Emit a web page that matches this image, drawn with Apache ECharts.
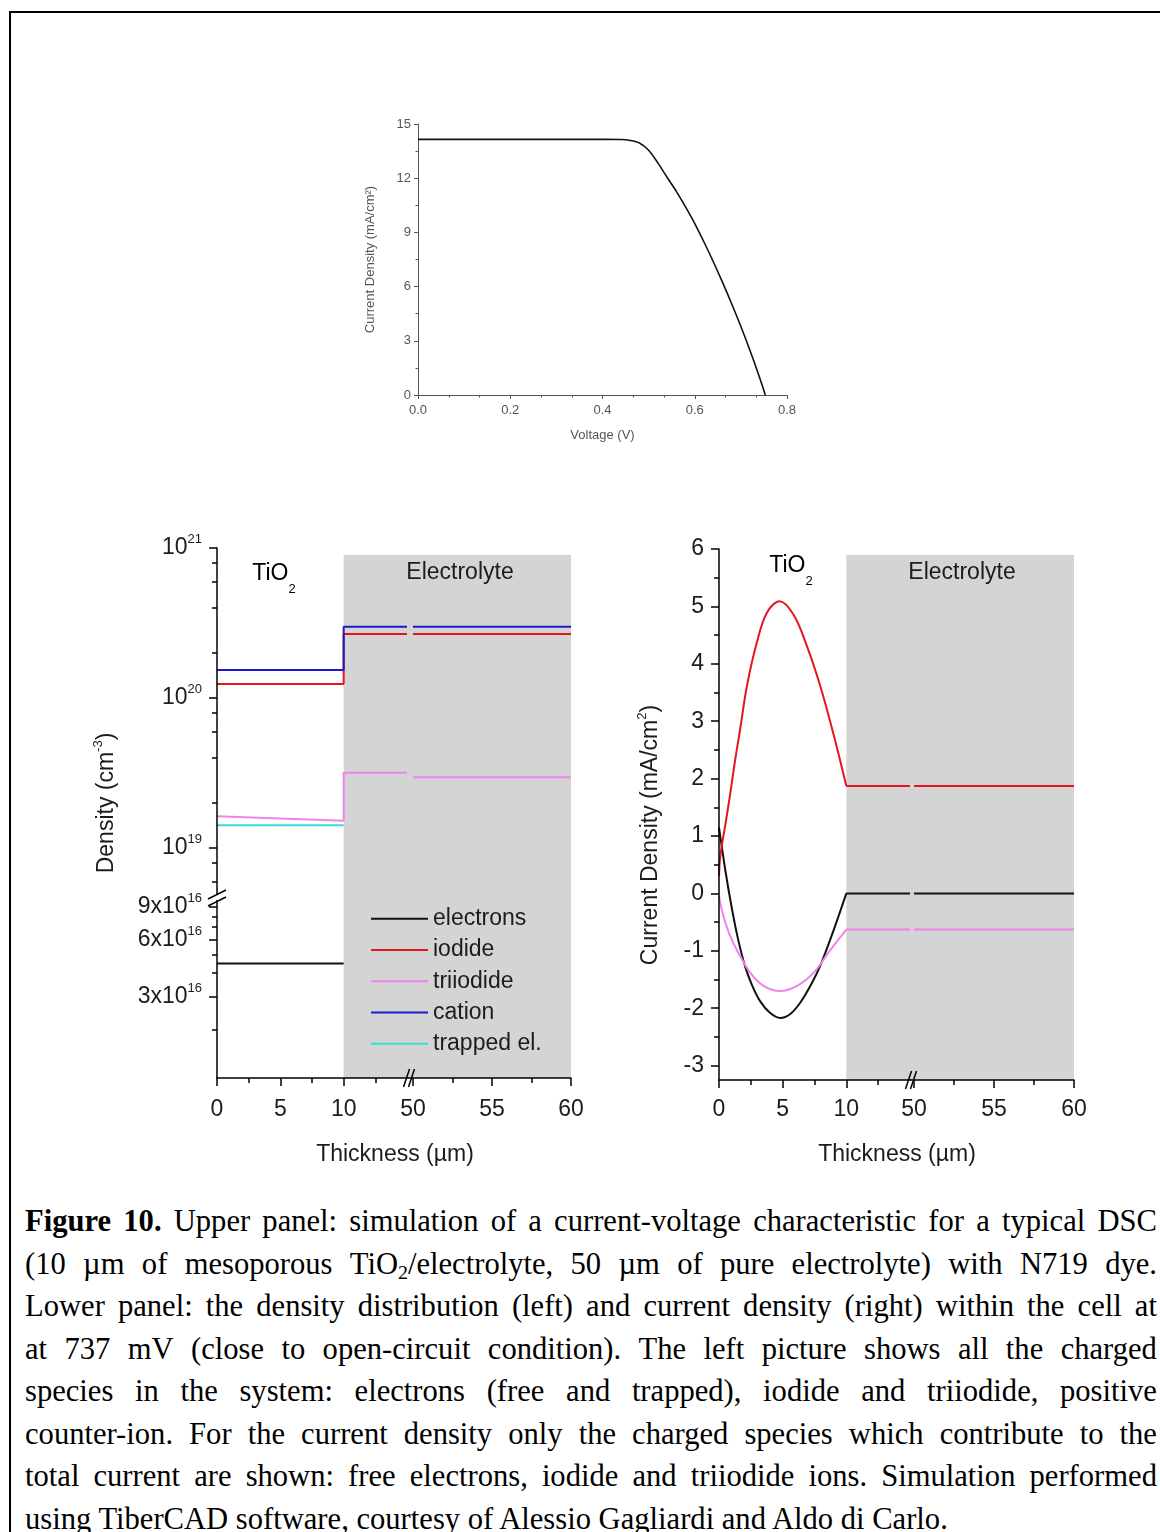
<!DOCTYPE html>
<html>
<head>
<meta charset="utf-8">
<title>Figure 10</title>
<script src="https://cdn.jsdelivr.net/npm/echarts@6.0.0/dist/echarts.min.js"></script>
<style>
  html, body { margin:0; padding:0; background:#fff; overflow:hidden; width:1160px; height:1532px; }
  #frame { position:absolute; left:9px; top:11px; width:1300px; height:1700px; border-left:2px solid #000; border-top:2px solid #000; box-sizing:border-box; }
  #chart { position:absolute; left:0; top:0; width:1160px; height:1180px; }
  #caption { position:absolute; left:25px; top:1200px; width:1132px; font-family:"Liberation Serif","Times New Roman",serif; font-size:30.6px; line-height:42.5px; color:#000; }
  .ln { display:flex; justify-content:space-between; white-space:nowrap; height:42.5px; }
  .last { white-space:nowrap; height:42.5px; }
  sub { font-size:0.65em; line-height:0; vertical-align:-0.25em; }
</style>
</head>
<body>
<div id="frame"></div>
<div id="chart"></div>
<div id="caption"></div>
<script>
// ================= DATA =================
// Upper panel: simulated J-V characteristic
const voltage = [0, 0.1, 0.2, 0.3, 0.4, 0.44, 0.46, 0.48, 0.50, 0.52, 0.54, 0.56, 0.58, 0.60, 0.62, 0.64, 0.66, 0.68, 0.70, 0.72, 0.74, 0.753];
const currentJV = [14.15, 14.15, 14.15, 14.15, 14.15, 14.14, 14.09, 13.95, 13.55, 12.85, 12.05, 11.27, 10.41, 9.49, 8.47, 7.39, 6.25, 5.05, 3.79, 2.45, 1.01, 0];

// Lower-left panel: densities (cm^-3)
const xStepNear = [0, 10, 10, 15];      // TiO2 region, jump at interface, first electrolyte µm
const xFar = [50, 60];                   // far electrolyte after axis break
const xTiO2 = [0, 10];
const cationNear = [1.54e20, 1.54e20, 2.99e20, 2.99e20];
const cationFar = [2.99e20, 2.99e20];
const iodideNear = [1.24e20, 1.24e20, 2.67e20, 2.67e20];
const iodideFar = [2.67e20, 2.67e20];
const triiodideNear = [1.63e19, 1.52e19, 3.18e19, 3.18e19];
const triiodideFar = [2.96e19, 2.96e19];
const trappedEl = [1.42e19, 1.42e19];
const electronsDens = [4.5e16, 4.5e16];
const densUpperLabels = [19, 20, 21];            // exponents
const densLowerLabels = [3e16, 6e16, 9e16];
const densLowerMinor = [2e16, 4e16, 5e16, 7e16, 8e16];

// Lower-right panel: current densities (mA/cm^2)
const xIodideCur = [0, 0.1, 0.5, 0.87, 1.25, 1.66, 2.19, 2.97, 3.76, 4.76, 5.87, 6.92, 7.97, 9.02, 10];
const iodideCur = [0.3, 0.65, 1.2, 1.72, 2.3, 2.86, 3.61, 4.37, 4.89, 5.09, 4.85, 4.3, 3.6, 2.75, 1.87];
const xElecCur = [0, 0.5, 1.0, 1.5, 2.05, 2.6, 3.24, 4.0, 4.81, 5.6, 6.39, 7.2, 7.97, 9.02, 10];
const elecCur = [1.15, 0.4, -0.25, -0.8, -1.27, -1.6, -1.88, -2.08, -2.17, -2.1, -1.9, -1.6, -1.25, -0.63, 0];
const xTriCur = [0, 0.34, 0.8, 1.39, 2.45, 3.5, 4.81, 6.13, 7.44, 8.76, 10];
const triCur = [-0.05, -0.39, -0.7, -0.98, -1.38, -1.61, -1.70, -1.61, -1.38, -0.98, -0.63];
const xFlatNear = [10, 15];
const iodideCurFlat = [1.87, 1.87];
const elecCurFlat = [0, 0];
const triCurFlat = [-0.63, -0.63];
const curLabels = [-3, -2, -1, 0, 1, 2, 3, 4, 5, 6];

const thicknessNearLabels = [0, 5, 10];
const thicknessFarLabels = [50, 55, 60];

// ================= STYLE =================
const FONT = '"Liberation Sans", Arial, sans-serif';
const TXT = '#1c1c1c';
const GRAY = '#d4d4d4';
const C_BLACK = '#111111', C_RED = '#e3161f', C_MAG = '#ec84ec', C_BLUE = '#1a1ac8', C_CYAN = '#35dcdc';
const lg = Math.log10;
const zip = (xs, ys) => xs.map((x, i) => [x, ys[i]]);

const DENS_UP_MIN = 18.667, DENS_UP_MAX = 21;
const DENS_LO_MIN = lg(1.11e16), DENS_LO_MAX = 17;
const CUR_MIN = -3.25, CUR_MAX = 6;
const FAR_MIN_D = 49.62, FAR_MIN_C = 49.75;
const SHADE_TOP_D = lg(8.97e20), SHADE_TOP_C = 5.895;

const rich = {
  n: { fontSize: 23, fontFamily: FONT, color: TXT, lineHeight: 30, verticalAlign: 'middle' },
  s: { fontSize: 13, fontFamily: FONT, color: TXT, verticalAlign: 'top' }
};

function bottomMajor(gi, min, max, vals, margin) {
  return { gridIndex: gi, type: 'value', min, max, position: 'bottom', z: 4,
    axisLine: { onZero: false, lineStyle: { color: '#000', width: 1.5 } },
    axisTick: { customValues: vals, length: 8, lineStyle: { color: '#000', width: 1.5 } },
    axisLabel: { customValues: vals, fontSize: 23, fontFamily: FONT, color: TXT, margin },
    splitLine: { show: false } };
}
function bottomMinor(gi, min, max, vals) {
  return { gridIndex: gi, type: 'value', min, max, position: 'bottom', z: 4,
    axisLine: { show: false, onZero: false },
    axisTick: { customValues: vals, length: 5, lineStyle: { color: '#000', width: 1.5 } },
    axisLabel: { show: false }, splitLine: { show: false } };
}
function leftMajor(gi, min, max, vals, fmt) {
  return { gridIndex: gi, type: 'value', min, max, position: 'left', z: 4,
    axisLine: { onZero: false, lineStyle: { color: '#000', width: 1.5 } },
    axisTick: { customValues: vals, length: 8, lineStyle: { color: '#000', width: 1.5 } },
    axisLabel: { customValues: vals, formatter: fmt, rich, margin: 15 },
    splitLine: { show: false } };
}
function leftMinor(gi, min, max, vals) {
  return { gridIndex: gi, type: 'value', min, max, position: 'left', z: 4,
    axisLine: { show: false, onZero: false },
    axisTick: { customValues: vals, length: 5, lineStyle: { color: '#000', width: 1.5 } },
    axisLabel: { show: false }, splitLine: { show: false } };
}
function hiddenAxis(gi, min, max) {
  return { gridIndex: gi, type: 'value', min, max, show: false, splitLine: { show: false } };
}
function shade(xi, yi, x0, x1, y0, y1) {
  return { type: 'line', xAxisIndex: xi, yAxisIndex: yi, data: [[x0, y0]], symbol: 'none', silent: true,
    lineStyle: { opacity: 0 }, z: 1,
    markArea: { silent: true, itemStyle: { color: GRAY, opacity: 1 }, data: [[{ xAxis: x0, yAxis: y0 }, { xAxis: x1, yAxis: y1 }]] } };
}
function dens(name, xi, yi, xs, vals, color) {
  return { name, type: 'line', xAxisIndex: xi, yAxisIndex: yi, data: zip(xs, vals.map(lg)), symbol: 'none',
    lineStyle: { color, width: 2 }, itemStyle: { color }, z: 3 };
}
function cur(name, xi, yi, xs, ys, color, smooth) {
  return { name, type: 'line', xAxisIndex: xi, yAxisIndex: yi, data: zip(xs, ys), symbol: 'none',
    smooth: smooth ? 0.35 : false, lineStyle: { color, width: 2 }, itemStyle: { color }, z: 3 };
}

// minor ticks for upper density segment (2,4,6,8 x 10^n)
const densUpperMinor = [];
[18, 19, 20].forEach(n => [2, 4, 6, 8].forEach(k => { const v = n + lg(k); if (v > DENS_UP_MIN && v < DENS_UP_MAX) densUpperMinor.push(v); }));
const curMinor = curLabels.slice(0, -1).map(v => v + 0.5);

const option = {
  animation: false,
  backgroundColor: 'transparent',
  grid: [
    { left: 418, top: 124, width: 369, height: 271 },       // 0 J-V
    { left: 217, top: 548, width: 190, height: 350 },       // 1 density upper near
    { left: 407, top: 548, width: 164, height: 350 },       // 2 density upper far
    { left: 217, top: 898, width: 190, height: 180 },       // 3 density lower near
    { left: 407, top: 898, width: 164, height: 180 },       // 4 density lower far
    { left: 719, top: 549, width: 191, height: 531 },       // 5 current near
    { left: 910, top: 549, width: 164, height: 531 }        // 6 current far
  ],
  xAxis: [
    { gridIndex: 0, type: 'value', min: 0, max: 0.8, interval: 0.2,
      axisLine: { onZero: false, lineStyle: { color: '#555', width: 1 } },
      axisTick: { length: 4, lineStyle: { color: '#555' } },
      minorTick: { show: true, splitNumber: 3, length: 2.5, lineStyle: { color: '#555' } },
      axisLabel: { fontSize: 13, fontFamily: FONT, color: '#555', margin: 9, formatter: v => v.toFixed(1) },
      splitLine: { show: false }, minorSplitLine: { show: false },
      name: 'Voltage (V)', nameLocation: 'middle', nameGap: 34,
      nameTextStyle: { fontSize: 13, fontFamily: FONT, color: '#555' } },
    hiddenAxis(1, 0, 15),                                   // 1
    hiddenAxis(2, FAR_MIN_D, 60),                           // 2
    bottomMajor(3, 0, 15, thicknessNearLabels, 20),         // 3
    bottomMinor(3, 0, 15, [2.5, 7.5, 12.5]),                // 4
    bottomMajor(4, FAR_MIN_D, 60, thicknessFarLabels, 20),  // 5
    bottomMinor(4, FAR_MIN_D, 60, [52.5, 57.5]),            // 6
    bottomMajor(5, 0, 15, thicknessNearLabels, 18),         // 7
    bottomMinor(5, 0, 15, [2.5, 7.5, 12.5]),                // 8
    bottomMajor(6, FAR_MIN_C, 60, thicknessFarLabels, 18),  // 9
    bottomMinor(6, FAR_MIN_C, 60, [52.5, 57.5])             // 10
  ],
  yAxis: [
    { gridIndex: 0, type: 'value', min: 0, max: 15, interval: 3,
      axisLine: { onZero: false, lineStyle: { color: '#555', width: 1 } },
      axisTick: { length: 4, lineStyle: { color: '#555' } },
      minorTick: { show: true, splitNumber: 2, length: 2.5, lineStyle: { color: '#555' } },
      axisLabel: { fontSize: 13, fontFamily: FONT, color: '#555', margin: 7 },
      splitLine: { show: false }, minorSplitLine: { show: false },
      name: 'Current Density (mA/cm²)', nameLocation: 'middle', nameGap: 41, nameRotate: 90,
      nameTextStyle: { fontSize: 13, fontFamily: FONT, color: '#555' } },
    leftMajor(1, DENS_UP_MIN, DENS_UP_MAX, densUpperLabels, v => '{n|10}{s|' + Math.round(v) + '}'),   // 1
    leftMinor(1, DENS_UP_MIN, DENS_UP_MAX, densUpperMinor),                                           // 2
    hiddenAxis(2, DENS_UP_MIN, DENS_UP_MAX),                                                          // 3
    leftMajor(3, DENS_LO_MIN, DENS_LO_MAX, densLowerLabels.map(lg),
      v => '{n|' + Math.round(Math.pow(10, v - 16)) + 'x10}{s|16}'),                                  // 4
    leftMinor(3, DENS_LO_MIN, DENS_LO_MAX, densLowerMinor.map(lg)),                                   // 5
    hiddenAxis(4, DENS_LO_MIN, DENS_LO_MAX),                                                          // 6
    leftMajor(5, CUR_MIN, CUR_MAX, curLabels, v => '{n|' + Math.round(v) + '}'),                      // 7
    leftMinor(5, CUR_MIN, CUR_MAX, curMinor),                                                         // 8
    hiddenAxis(6, CUR_MIN, CUR_MAX)                                                                   // 9
  ],
  legend: {
    data: ['electrons', 'iodide', 'triiodide', 'cation', 'trapped el.'],
    orient: 'vertical', left: 371, top: 903, padding: 0, icon: 'rect', itemWidth: 57, itemHeight: 2, itemGap: 0,
    selectedMode: false,
    textStyle: { fontSize: 23, fontFamily: FONT, color: TXT, lineHeight: 31.3 }
  },
  series: [
    { name: 'J-V', type: 'line', xAxisIndex: 0, yAxisIndex: 0, data: zip(voltage, currentJV), symbol: 'none',
      smooth: 0.3, lineStyle: { color: '#111', width: 1.6 }, z: 3 },
    // electrolyte shading
    shade(1, 1, 10, 15, DENS_UP_MIN, SHADE_TOP_D),
    shade(2, 3, FAR_MIN_D, 60, DENS_UP_MIN, SHADE_TOP_D),
    shade(3, 4, 10, 15, DENS_LO_MIN, DENS_LO_MAX),
    shade(5, 6, FAR_MIN_D, 60, DENS_LO_MIN, DENS_LO_MAX),
    shade(7, 7, 10, 15, CUR_MIN, SHADE_TOP_C),
    shade(9, 9, FAR_MIN_C, 60, CUR_MIN, SHADE_TOP_C),
    // densities
    dens('electrons', 3, 4, xTiO2, electronsDens, C_BLACK),
    dens('trapped el.', 1, 1, xTiO2, trappedEl, C_CYAN),
    dens('triiodide', 1, 1, xStepNear, triiodideNear, C_MAG),
    dens('triiodide', 2, 3, xFar, triiodideFar, C_MAG),
    dens('iodide', 1, 1, xStepNear, iodideNear, C_RED),
    dens('iodide', 2, 3, xFar, iodideFar, C_RED),
    dens('cation', 1, 1, xStepNear, cationNear, C_BLUE),
    dens('cation', 2, 3, xFar, cationFar, C_BLUE),
    // currents
    cur('electron current', 7, 7, xElecCur, elecCur, C_BLACK, true),
    cur('electron current', 7, 7, xFlatNear, elecCurFlat, C_BLACK, false),
    cur('electron current', 9, 9, xFar, elecCurFlat, C_BLACK, false),
    cur('triiodide current', 7, 7, xTriCur, triCur, C_MAG, true),
    cur('triiodide current', 7, 7, xFlatNear, triCurFlat, C_MAG, false),
    cur('triiodide current', 9, 9, xFar, triCurFlat, C_MAG, false),
    cur('iodide current', 7, 7, xIodideCur, iodideCur, C_RED, true),
    cur('iodide current', 7, 7, xFlatNear, iodideCurFlat, C_RED, false),
    cur('iodide current', 9, 9, xFar, iodideCurFlat, C_RED, false)
  ]
};

const chart = echarts.init(document.getElementById('chart'), null, { renderer: 'canvas' });
chart.setOption(option);

// ---- annotations & axis-break marks ----
const px = (xi, v) => chart.convertToPixel({ xAxisIndex: xi }, v);
const py = (yi, v) => chart.convertToPixel({ yAxisIndex: yi }, v);
function breakX(cx, cy) {
  return [
    { type: 'line', shape: { x1: cx - 6.5, y1: cy + 9, x2: cx - 0.5, y2: cy - 9 }, style: { stroke: '#000', lineWidth: 1.5 }, z: 10 },
    { type: 'line', shape: { x1: cx - 1.5, y1: cy + 9, x2: cx + 4.5, y2: cy - 9 }, style: { stroke: '#000', lineWidth: 1.5 }, z: 10 }
  ];
}
function breakY(cx, cy) {
  return [
    { type: 'rect', shape: { x: cx - 2, y: cy - 4, width: 4, height: 6 }, style: { fill: '#fff' }, z: 9 },
    { type: 'line', shape: { x1: cx - 9, y1: cy + 1, x2: cx + 9, y2: cy - 8 }, style: { stroke: '#000', lineWidth: 1.5 }, z: 10 },
    { type: 'line', shape: { x1: cx - 9, y1: cy + 8, x2: cx + 9, y2: cy - 1 }, style: { stroke: '#000', lineWidth: 1.5 }, z: 10 }
  ];
}
const lxb = (px(3, 15) + px(5, 50)) / 2, lyb = py(4, DENS_LO_MIN);
const rxb = (px(7, 15) + px(9, 50)) / 2, ryb = py(7, CUR_MIN);
const ybx = px(3, 0), yby = py(1, DENS_UP_MIN);

const tio2Rich = {
  m: { fontSize: 23, fontFamily: FONT, color: TXT, verticalAlign: 'top', lineHeight: 23 },
  b: { fontSize: 13, fontFamily: FONT, color: TXT, verticalAlign: 'bottom', lineHeight: 34 }
};
const nameRich = { s: { fontSize: 13, fontFamily: FONT, fill: TXT, verticalAlign: 'top' } };
function label(text, x, y, extra) {
  return Object.assign({ type: 'text', x, y, z: 10,
    style: { text, fontSize: 23, fontFamily: FONT, fill: TXT, align: 'center', verticalAlign: 'middle', lineHeight: 30, rich: nameRich } }, extra || {});
}

const graphics = [].concat(
  breakX(lxb, lyb), breakX(rxb, ryb), breakY(ybx, yby),
  [
    { type: 'text', x: 274, y: 579, z: 10, style: { text: '{m|TiO}{b|2}', rich: tio2Rich, align: 'center', verticalAlign: 'middle' } },
    { type: 'text', x: 791, y: 571, z: 10, style: { text: '{m|TiO}{b|2}', rich: tio2Rich, align: 'center', verticalAlign: 'middle' } },
    label('Electrolyte', 460, 573),
    label('Electrolyte', 962, 573),
    label('Thickness (µm)', 395, 1155),
    label('Thickness (µm)', 897, 1155),
    label('Density (cm{s|-3})', 107, 803, { rotation: Math.PI / 2 }),
    label('Current Density (mA/cm{s|2})', 651, 835, { rotation: Math.PI / 2 })
  ]
);
chart.setOption({ graphic: graphics });

// ---- caption (justified lines) ----
const captionLines = [
  '<b>Figure</b> <b>10.</b> Upper panel: simulation of a current-voltage characteristic for a typical DSC',
  '(10 µm of mesoporous TiO<sub>2</sub>/electrolyte, 50 µm of pure electrolyte) with N719 dye.',
  'Lower panel: the density distribution (left) and current density (right) within the cell at',
  'at 737 mV (close to open-circuit condition). The left picture shows all the charged',
  'species in the system: electrons (free and trapped), iodide and triiodide, positive',
  'counter-ion. For the current density only the charged species which contribute to the',
  'total current are shown: free electrons, iodide and triiodide ions. Simulation performed',
  'using TiberCAD software, courtesy of Alessio Gagliardi and Aldo di Carlo.'
];
const cap = document.getElementById('caption');
captionLines.forEach((line, i) => {
  const div = document.createElement('div');
  if (i < captionLines.length - 1) {
    div.className = 'ln';
    div.innerHTML = line.split(' ').map(w => '<span>' + w + '</span>').join('');
  } else {
    div.className = 'last';
    div.innerHTML = line;
  }
  cap.appendChild(div);
});
</script>
</body>
</html>
